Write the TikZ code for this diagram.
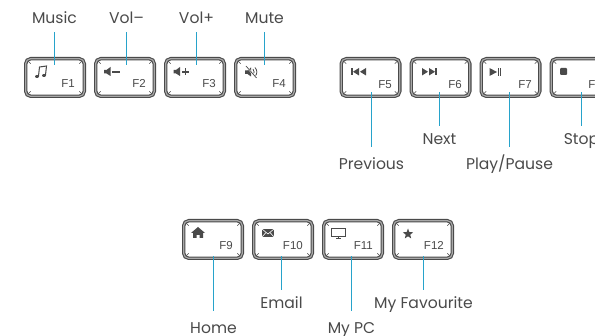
\documentclass[tikz,border=0pt]{standalone}
\usepackage{fontspec}
\setmainfont{Poppins}
\newfontfamily\fnfont{Liberation Sans}
\usetikzlibrary{shapes.geometric}
\definecolor{keygray}{HTML}{4A4A4A}
\definecolor{keyband}{HTML}{A8A8A8}
\definecolor{leadblue}{HTML}{27A3CB}

\begin{document}
\begin{tikzpicture}[x=1pt,y=-1pt,
      every edge/.style={draw=leadblue,line width=1.2pt},
      keycap/.style={rectangle,draw=keygray,line width=1.1pt,double=keyband,double distance=1.2pt,
        rounded corners=5pt,fill=white,minimum width=58.6pt,minimum height=37.6pt,inner sep=0pt,
        path picture={
          \draw[keygray,line width=0.6pt] (path picture bounding box.north west) -- +(5pt,-5pt);
          \draw[keygray,line width=0.6pt] (path picture bounding box.north east) -- +(-5pt,-5pt);
          \draw[keygray,line width=0.6pt] (path picture bounding box.south west) -- +(5pt,5pt);
          \draw[keygray,line width=0.6pt] (path picture bounding box.south east) -- +(-5pt,5pt);
        }},
      keyfn/.style={anchor=base east,inner sep=0pt,text=keygray,font=\fnfont\fontsize{11.5}{13}\selectfont},
      keyname/.style={anchor=base,inner xsep=0pt,inner ysep=5pt,text height=14pt,text depth=3pt,
        text=keygray,font=\fontsize{15.6}{18}\selectfont},
      keynamefar/.style={keyname,text height=18pt},
      icon/.style={fill=keygray,draw=none},
      iconline/.style={draw=keygray,line width=1pt}]
      \useasboundingbox (0,0) rectangle (595,336);
      \clip (0,0) rectangle (595,336);

      \node[keycap] (f1) at ( 55, 77.5) {};
      \node[keycap] (f2) at (125, 77.5) {};
      \node[keycap] (f3) at (195, 77.5) {};
      \node[keycap] (f4) at (265, 77.5) {};

      \node[keycap] (f5) at (370.5, 77.5) {};
      \node[keycap] (f6) at (440.5, 77.5) {};
      \node[keycap] (f7) at (510.5, 77.5) {};
      \node[keycap] (f8) at (580.5, 77.5) {};

      \node[keycap] (f9) at (213, 239.5) {};
      \node[keycap] (f10) at (283, 239.5) {};
      \node[keycap] (f11) at (353, 239.5) {};
      \node[keycap] (f12) at (423, 239.5) {};

      \node[keyfn] (f1fn) at ( 75, 88) {F1};
      \node[keyfn] (f2fn) at (146, 88) {F2};
      \node[keyfn] (f3fn) at (216, 88) {F3};
      \node[keyfn] (f4fn) at (286, 88) {F4};
      \node[keyfn] (f5fn) at (392, 89) {F5};
      \node[keyfn] (f6fn) at (462, 89) {F6};
      \node[keyfn] (f7fn) at (532, 89) {F7};
      \node[keyfn] (f8fn) at (602, 89) {F8};
      \node[keyfn] (f9fn) at (233, 250) {F9};
      \node[keyfn] (f10fn) at (303, 250) {F10};
      \node[keyfn] (f11fn) at (373, 250) {F11};
      \node[keyfn] (f12fn) at (444, 250) {F12};

      \node[keyname] (music) at ( 54.5, 24) {Music};
      \node[keyname] (voldown) at (126.5, 24) {Vol--};
      \node[keyname] (volup) at (196.5, 24) {Vol+};
      \node[keyname] (mute) at (264.5, 24) {Mute};

      \node[keynamefar] (previous) at (371.5, 170) {Previous};
      \node[keyname] (next) at (439.5, 145) {Next};
      \node[keynamefar] (playpause) at (509.5, 170) {Play/Pause};
      \node[keyname] (stop) at (581.5, 145) {Stop};

      \node[keynamefar] (home) at (213.5, 334) {Home};
      \node[keyname] (email) at (281.5, 309) {Email};
      \node[keynamefar] (mypc) at (351.5, 334) {My PC};
      \node[keyname] (favourite) at (423.5, 309) {My Favourite};

      \coordinate (f1tip) at ( 54.5, 65);
      \coordinate (f2tip) at (126.5, 65);
      \coordinate (f3tip) at (196.5, 65);
      \coordinate (f4tip) at (264.5, 65);
      \coordinate (f5tip) at (371.5, 92);
      \coordinate (f6tip) at (439.5, 92);
      \coordinate (f7tip) at (509.5, 92);
      \coordinate (f8tip) at (581.5, 92);
      \coordinate (f9tip) at (213.5, 256);
      \coordinate (f10tip) at (281.5, 256);
      \coordinate (f11tip) at (351.5, 256);
      \coordinate (f12tip) at (423.5, 256);

      \path
      (music) edge (f1tip)
      (voldown) edge (f2tip)
      (volup) edge (f3tip)
      (mute) edge (f4tip)

      (previous) edge (f5tip)
      (next) edge (f6tip)
      (playpause) edge (f7tip)
      (stop) edge (f8tip)

      (home) edge (f9tip)
      (email) edge (f10tip)
      (mypc) edge (f11tip)
      (favourite) edge (f12tip)
      ;

      % music
      \draw[iconline] (38.5,76) -- (39.5,67) -- (46.5,66) -- (45.5,75);
      \fill[icon] (37,76.5) ellipse (2 and 1.5);
      \fill[icon] (44,75.5) ellipse (2 and 1.5);
      % vol-
      \fill[icon] (104,70) -- (106.5,70) -- (110.5,67) -- (110.5,76) -- (106.5,73.5) -- (104,73.5) -- cycle;
      \fill[icon] (112.3,71) rectangle (120,72.6);
      % vol+
      \fill[icon] (173.5,70) -- (176,70) -- (180,67) -- (180,76) -- (176,73.5) -- (173.5,73.5) -- cycle;
      \fill[icon] (182,71) rectangle (188.7,72.6);
      \fill[icon] (184.5,68.5) rectangle (186.2,75.2);
      % mute
      \fill[icon] (245,70.5) -- (247.5,70.5) -- (251,67.5) -- (251,76.5) -- (247.5,74) -- (245,74) -- cycle;
      \draw[keygray,line width=0.8pt] (253,69) .. controls (254.5,71) and (254.5,73) .. (253,75);
      \draw[keygray,line width=0.8pt] (255,67.5) .. controls (257.5,70.5) and (257.5,73.5) .. (255,76.5);
      \draw[white,line width=1.6pt] (246,66) -- (256.5,78);
      \draw[keygray,line width=0.7pt] (246,66) -- (256.5,78);
      % previous
      \fill[icon] (351,68) rectangle (352.6,75.5);
      \fill[icon] (359,68) -- (353,71.75) -- (359,75.5) -- cycle;
      \fill[icon] (366,68) -- (360,71.75) -- (366,75.5) -- cycle;
      % next
      \fill[icon] (422,68) -- (428,71.75) -- (422,75.5) -- cycle;
      \fill[icon] (429,68) -- (435,71.75) -- (429,75.5) -- cycle;
      \fill[icon] (435.4,68) rectangle (437,75.5);
      % play/pause
      \fill[icon] (489.5,68) -- (497,72) -- (489.5,76) -- cycle;
      \fill[icon] (498,68) rectangle (499,76);
      \fill[icon] (500,68) rectangle (501,76);
      % stop
      \fill[icon,rounded corners=1pt] (560,68) rectangle (567,75);
      % home
      \fill[icon] (191,233) -- (198,227) -- (205,233) -- (203,233) -- (203,238) -- (199.5,238) -- (199.5,235)
        -- (196.5,235) -- (196.5,238) -- (193,238) -- (193,233) -- cycle;
      % email
      \fill[icon] (262,229) rectangle (274,237);
      \draw[white,line width=0.6pt] (262,229) -- (268,234) -- (274,229);
      \draw[white,line width=0.6pt] (262,237) -- (266,232.5);
      \draw[white,line width=0.6pt] (274,237) -- (270,232.5);
      % my pc
      \draw[keygray,line width=0.8pt] (331.5,228.5) rectangle (345,236.5);
      \fill[icon] (331,228) rectangle (345.5,229.5);
      \fill[icon] (337.5,236.5) rectangle (339,238.5);
      \fill[icon] (335.5,238.2) rectangle (341,239.2);
      % my favourite
      \node[star,star points=5,star point ratio=2.4,fill=keygray,inner sep=0pt,minimum size=11pt] (favstar) at (408,234) {};

      \end{tikzpicture}
\end{document}
